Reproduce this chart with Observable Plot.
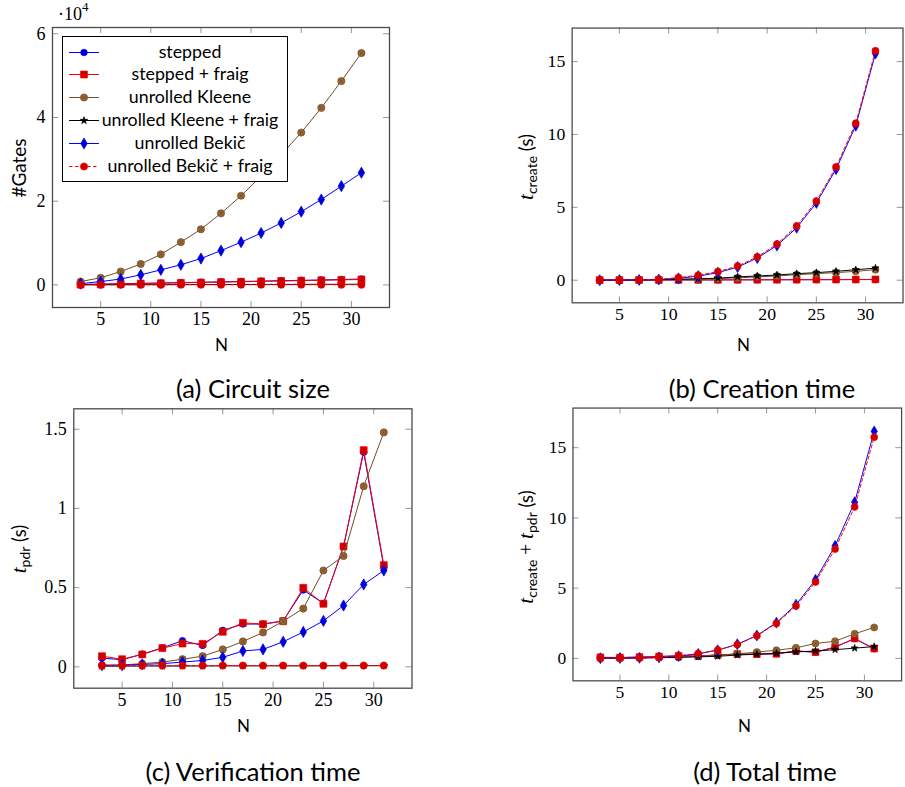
<!DOCTYPE html>
<html><head><meta charset="utf-8">
<script src="https://cdn.jsdelivr.net/npm/d3@7"></script>
<script src="https://cdn.jsdelivr.net/npm/@observablehq/plot@0.6"></script>
<style>
body{margin:0;background:#fff;}
#page{position:relative;width:905px;height:787px;overflow:hidden;background:#fff;font-family:Lato,"Noto Sans",sans-serif;color:#000}
.panel{position:absolute}
.lbl{position:absolute;white-space:nowrap;line-height:1}
.rot{transform:translate(-50%,-50%) rotate(-90deg)}
.cap{position:absolute;transform:translateX(-50%);font-size:25.5px;white-space:nowrap;line-height:1}
.ti{font-family:"Liberation Serif",serif;font-style:italic;font-size:21px}
.sb{font-size:14px;position:relative;top:4px}
.pl{font-family:"Liberation Serif",serif;font-size:20px}
#legend{position:absolute;left:62px;top:36px;width:224px;height:144px;border:1px solid #000;background:#fff}
.lrow{position:absolute;left:0;width:224px;height:23px}
.ltxt{position:absolute;left:33px;width:188px;text-align:center;top:2px;font-size:17.8px;line-height:1;white-space:nowrap}
</style></head><body><div id="page"></div>
<script>
// ---------- data ----------
const N = [3,5,7,9,11,13,15,17,19,21,23,25,27,29,31];
const seriesNames = ["stepped","stepped + fraig","unrolled Kleene","unrolled Kleene + fraig","unrolled Bekič","unrolled Bekič + fraig"];
const xTicks = [5,10,15,20,25,30];

// (a) #Gates, in units of 10^4
const gatesStepped      = [0.010,0.019,0.028,0.037,0.046,0.055,0.064,0.073,0.082,0.091,0.100,0.109,0.118,0.128,0.140];
const gatesSteppedFraig = [0.008,0.016,0.024,0.032,0.040,0.049,0.057,0.066,0.075,0.084,0.093,0.102,0.111,0.120,0.130];
const gatesKleene       = [0.08,0.17,0.32,0.50,0.73,1.02,1.33,1.71,2.13,2.60,3.11,3.64,4.23,4.87,5.54];
const gatesKleeneFraig  = [0.002,0.003,0.004,0.005,0.006,0.007,0.008,0.009,0.010,0.011,0.012,0.013,0.014,0.015,0.016];
const gatesBekic        = [0.03,0.08,0.14,0.24,0.36,0.48,0.63,0.82,1.02,1.24,1.48,1.75,2.04,2.36,2.68];
const gatesBekicFraig   = [0.001,0.001,0.002,0.002,0.002,0.003,0.003,0.003,0.003,0.004,0.004,0.004,0.004,0.005,0.005];

// (b) creation time (s)
const createStepped      = [0.005,0.008,0.010,0.012,0.015,0.018,0.020,0.022,0.025,0.028,0.030,0.033,0.036,0.040,0.045];
const createSteppedFraig = [0.010,0.012,0.015,0.018,0.020,0.023,0.026,0.029,0.032,0.035,0.038,0.042,0.046,0.050,0.055];
const createKleene       = [0.005,0.010,0.020,0.030,0.050,0.080,0.110,0.160,0.230,0.290,0.380,0.450,0.520,0.610,0.720];
const createKleeneFraig  = [0.005,0.010,0.020,0.040,0.060,0.100,0.140,0.230,0.290,0.360,0.450,0.520,0.610,0.720,0.830];
const createBekic        = [0.00,0.01,0.02,0.05,0.13,0.28,0.52,0.90,1.52,2.38,3.60,5.30,7.62,10.60,15.55];
const createBekicFraig   = [0.01,0.02,0.03,0.07,0.18,0.34,0.59,0.97,1.60,2.48,3.72,5.43,7.77,10.77,15.74];

// (c) verification time (s)
const pdrStepped      = [0.055,0.045,0.080,0.120,0.165,0.135,0.230,0.270,0.270,0.290,0.485,0.400,0.760,1.355,0.630];
const pdrSteppedFraig = [0.067,0.048,0.078,0.118,0.147,0.145,0.221,0.278,0.269,0.288,0.499,0.398,0.760,1.368,0.642];
const pdrKleene       = [0.010,0.012,0.020,0.030,0.048,0.067,0.110,0.160,0.217,0.288,0.368,0.608,0.700,1.140,1.480];
const pdrKleeneFraig  = [0.004,0.004,0.005,0.005,0.005,0.005,0.006,0.006,0.006,0.006,0.006,0.006,0.007,0.007,0.007];
const pdrBekic        = [0.010,0.010,0.015,0.020,0.030,0.040,0.060,0.100,0.110,0.158,0.220,0.290,0.387,0.520,0.608];
const pdrBekicFraig   = [0.008,0.008,0.008,0.008,0.008,0.008,0.008,0.008,0.008,0.008,0.008,0.008,0.008,0.008,0.008];

// (d) total time (s)
const totalStepped      = [0.060,0.053,0.090,0.132,0.180,0.153,0.250,0.292,0.295,0.318,0.515,0.433,0.796,1.395,0.675];
const totalSteppedFraig = [0.077,0.060,0.093,0.136,0.167,0.168,0.247,0.307,0.301,0.323,0.537,0.440,0.806,1.418,0.697];
const totalKleene       = [0.015,0.022,0.040,0.060,0.098,0.147,0.220,0.320,0.447,0.578,0.748,1.058,1.220,1.750,2.200];
const totalKleeneFraig  = [0.009,0.014,0.025,0.045,0.065,0.105,0.146,0.236,0.296,0.366,0.456,0.526,0.617,0.727,0.837];
const totalBekic        = [0.01,0.02,0.035,0.07,0.16,0.32,0.58,1.00,1.63,2.54,3.82,5.59,8.01,11.12,16.16];
const totalBekicFraig   = [0.018,0.028,0.038,0.078,0.188,0.348,0.598,0.978,1.608,2.488,3.728,5.438,7.778,10.778,15.748];

// ---------- styles ----------
const styles = [
  {stroke:"#0000ff", fill:"#0000cc", symbol:"circle",  r:3.3},
  {stroke:"#ff0000", fill:"#cc0000", symbol:"square",  r:3.9},
  {stroke:"#734d26", fill:"#996633", symbol:"circle",  r:3.6, otimes:true},
  {stroke:"#000000", fill:"#000000", symbol:"star",    r:2.3},
  {stroke:"#0000ff", fill:"#0000cc", symbol:"diamond", r:3.4},
  {stroke:"#ff0000", fill:"#cc0000", symbol:"circle",  r:3.6, dash:"3.5,2.5"}
];

const page = document.getElementById("page");
const TICK_FONT = "'Liberation Serif', serif";

function panel(cfg){
  const {left, top, width, height, mL, mR, mT, mB, yDomain, yTicks, series} = cfg;
  const innerW = width - mL - mR, innerH = height - mT - mB, T = 6;
  const tickStyle = {stroke:"#8a8a8a", strokeWidth:0.9};
  const marks = [
    Plot.tickX(xTicks, {x:d=>d, insetTop: innerH - T, ...tickStyle}),
    Plot.tickX(xTicks, {x:d=>d, insetBottom: innerH - T, ...tickStyle}),
    Plot.tickY(yTicks, {y:d=>d, insetRight: innerW - T, ...tickStyle}),
    Plot.tickY(yTicks, {y:d=>d, insetLeft: innerW - T, ...tickStyle}),
    Plot.axisX(xTicks, {tickSize:0, tickPadding:5, label:null, tickFormat:d=>String(d), fontSize:18, fontFamily:TICK_FONT}),
    Plot.axisY(yTicks, {tickSize:0, tickPadding:7, label:null, tickFormat:d=>String(d), fontSize:18, fontFamily:TICK_FONT})
  ];
  series.forEach((arr,k)=>{
    const st = styles[k];
    const rows = N.map((n,i)=>({N:n, v:arr[i]}));
    const lineOpts = {x:"N", y:"v", stroke:st.stroke, strokeWidth:1};
    if (st.dash) lineOpts.strokeDasharray = st.dash;
    marks.push(Plot.line(rows, lineOpts));
    marks.push(Plot.dot(rows, {x:"N", y:"v", symbol:st.symbol, r:st.r, fill:st.fill, stroke:st.stroke, strokeWidth:0.7}));
    if (st.otimes) marks.push(Plot.dot(rows, {x:"N", y:"v", symbol:"times", r:2.3, stroke:st.stroke, strokeWidth:0.8}));
  });
  marks.push(Plot.frame({stroke:"#4a4a4a", strokeWidth:1.3}));
  const svg = Plot.plot({
    width, height, marginLeft:mL, marginRight:mR, marginTop:mT, marginBottom:mB,
    x:{domain:[0.2,33.8]}, y:{domain:yDomain},
    style:{fontFamily:TICK_FONT, fontSize:"18px", background:"transparent", overflow:"visible"},
    marks
  });
  const div = document.createElement("div");
  div.className = "panel";
  div.style.left = left + "px"; div.style.top = top + "px";
  div.appendChild(svg);
  page.appendChild(div);
}

panel({left:0, top:0, width:452, height:380, mL:52, mR:63, mT:27, mB:73,
  yDomain:[-0.54,6.15], yTicks:[0,2,4,6],
  series:[gatesStepped,gatesSteppedFraig,gatesKleene,gatesKleeneFraig,gatesBekic,gatesBekicFraig]});
panel({left:452, top:0, width:460, height:380, mL:121.5, mR:2.5, mT:28, mB:73,
  yDomain:[-1.55,17.3], yTicks:[0,5,10,15],
  series:[createStepped,createSteppedFraig,createKleene,createKleeneFraig,createBekic,createBekicFraig]});
panel({left:0, top:380, width:452, height:407, mL:73.3, mR:40.5, mT:28.3, mB:99.3,
  yDomain:[-0.135,1.629], yTicks:[0,0.5,1,1.5],
  series:[pdrStepped,pdrSteppedFraig,pdrKleene,pdrKleeneFraig,pdrBekic,pdrBekicFraig]});
panel({left:452, top:380, width:465, height:407, mL:123.7, mR:4, mT:28.3, mB:98.7,
  yDomain:[-1.6,17.82], yTicks:[0,5,10,15],
  series:[totalStepped,totalSteppedFraig,totalKleene,totalKleeneFraig,totalBekic,totalBekicFraig]});

// ---------- text ----------
function addLabel(html, css, cls){
  const d = document.createElement("div");
  d.className = cls || "lbl";
  d.innerHTML = html;
  Object.assign(d.style, css);
  page.appendChild(d);
  return d;
}
addLabel("·10<sup style='font-size:13px;position:relative;top:-2px'>4</sup>", {left:"58px", top:"2px", fontFamily:TICK_FONT, fontSize:"18px"});
addLabel("N", {left:"215px", top:"336px", fontSize:"17px"});
addLabel("N", {left:"737px", top:"336px", fontSize:"17px"});
addLabel("N", {left:"237px", top:"717px", fontSize:"17px"});
addLabel("N", {left:"738px", top:"717px", fontSize:"17px"});
addLabel("#Gates", {left:"18px", top:"168px", fontSize:"19px"}, "lbl rot");
addLabel("<span class='ti'>t</span><span class='sb'>create</span> (s)", {left:"526px", top:"167px", fontSize:"18.5px"}, "lbl rot");
addLabel("<span class='ti'>t</span><span class='sb'>pdr</span> (s)", {left:"19px", top:"549px", fontSize:"18.5px"}, "lbl rot");
addLabel("<span class='ti'>t</span><span class='sb'>create</span> <span class='pl'>+</span> <span class='ti'>t</span><span class='sb'>pdr</span> (s)", {left:"526px", top:"547px", fontSize:"18.5px"}, "lbl rot");

addLabel("(a) Circuit size", {left:"253px", top:"376px"}, "cap");
addLabel("(b) Creation time", {left:"762px", top:"376px"}, "cap");
addLabel("(c) Verification time", {left:"253px", top:"759px"}, "cap");
addLabel("(d) Total time", {left:"765px", top:"759px"}, "cap");

// ---------- legend ----------
const legend = document.createElement("div");
legend.id = "legend";
page.appendChild(legend);
const symMap = {circle:d3.symbolCircle, square:d3.symbolSquare, star:d3.symbolStar, diamond:d3.symbolDiamond, times:d3.symbolTimes};
seriesNames.forEach((name,i)=>{
  const st = styles[i];
  const row = document.createElement("div");
  row.className = "lrow";
  row.style.top = (3.6 + i*22.86) + "px";
  const sw = d3.create("svg").attr("width",34).attr("height",23).style("position","absolute").style("left","4px").style("top","0px");
  sw.append("line").attr("x1",2).attr("x2",32).attr("y1",11.5).attr("y2",11.5)
    .attr("stroke",st.stroke).attr("stroke-width",1).attr("stroke-dasharray",st.dash||null);
  sw.append("path").attr("transform","translate(17,11.5)")
    .attr("d", d3.symbol(symMap[st.symbol], Math.PI*st.r*st.r)())
    .attr("fill",st.fill).attr("stroke",st.stroke).attr("stroke-width",0.7);
  if (st.otimes) sw.append("path").attr("transform","translate(17,11.5)")
    .attr("d", d3.symbol(d3.symbolTimes, Math.PI*2.3*2.3)()).attr("fill","none").attr("stroke",st.stroke).attr("stroke-width",0.8);
  row.appendChild(sw.node());
  const t = document.createElement("div");
  t.className = "ltxt";
  t.textContent = name;
  row.appendChild(t);
  legend.appendChild(row);
});
</script></body></html>
